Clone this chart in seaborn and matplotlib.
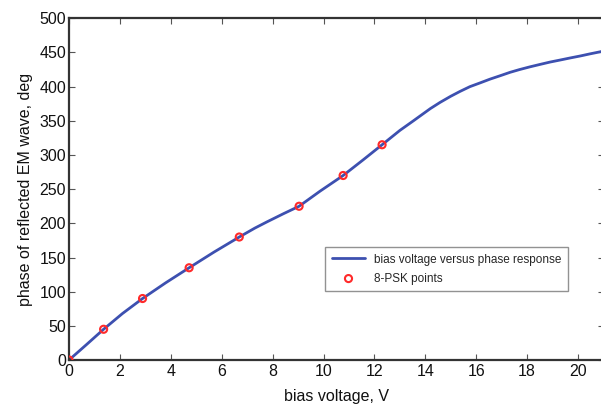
import matplotlib
matplotlib.use("Agg")
import matplotlib.pyplot as plt
import seaborn as sns
import pandas as pd

# Measured phase response of the reflecting element vs. bias voltage
bias_voltage = [0, 0.7, 1.36, 2.1, 2.89, 3.8, 4.72, 5.7, 6.69, 7.3, 7.77, 8.42,
                9.04, 9.86, 10.77, 11.56, 12.30, 13.0, 13.53, 13.79, 14.2, 14.58,
                15.0, 15.36, 15.75, 16.15, 16.54, 16.94, 17.33, 17.7, 18.11,
                18.5, 18.9, 19.3, 19.69, 20.1, 20.47, 21.0]
phase_deg = [0, 23, 45, 68, 90, 113, 135, 158, 180, 193, 202, 214,
             225, 247, 270, 293, 315, 336, 350, 357, 368, 377,
             386, 393, 400, 405.5, 411, 416, 421, 425, 429,
             432.5, 436, 439, 442, 445, 448, 452]

# Bias voltages selected for the eight 8-PSK phase states
psk_voltage = [0, 1.36, 2.89, 4.72, 6.69, 9.04, 10.77, 12.30]
psk_phase = [0, 45, 90, 135, 180, 225, 270, 315]

x_ticks = [0, 2, 4, 6, 8, 10, 12, 14, 16, 18, 20]
y_ticks = [0, 50, 100, 150, 200, 250, 300, 350, 400, 450, 500]

curve = pd.DataFrame({"v": bias_voltage, "phase": phase_deg})
points = pd.DataFrame({"v": psk_voltage, "phase": psk_phase})

sns.set_style("white")
plt.rcParams["font.family"] = ["Liberation Sans", "DejaVu Sans"]

fig = plt.figure(figsize=(6.01, 4.08), dpi=100)
ax = fig.add_axes([0.1148, 0.1176, 0.8894, 0.8375])

sns.lineplot(data=curve, x="v", y="phase", ax=ax, color="#3d50b0", linewidth=2.0,
             sort=False, label="bias voltage versus phase response")
sns.scatterplot(data=points, x="v", y="phase", ax=ax, marker="o", s=26,
                facecolor="none", edgecolor="#ff2a2a", linewidth=1.5,
                label="8-PSK points", zorder=3)

ax.set_xlim(0, 21)
ax.set_ylim(0, 500)
ax.set_xticks(x_ticks)
ax.set_yticks(y_ticks)
ax.tick_params(direction="in", length=4, width=0.8, color="#555555",
               labelsize=11.5, labelcolor="#111111", top=True, right=True,
               bottom=True, left=True, pad=3)
ax.tick_params(axis="y", pad=2)
for side in ["left", "bottom", "top", "right"]:
    ax.spines[side].set_color("#333333")
    ax.spines[side].set_linewidth(1.6)

ax.set_xlabel("bias voltage, V", fontsize=11.5, color="#111111", labelpad=7)
ax.set_ylabel("phase of reflected EM wave, deg", fontsize=11.5, color="#111111",
              labelpad=5)

leg = ax.legend(loc="center", bbox_to_anchor=(0.707, 0.266), fontsize=8.5,
                fancybox=False, frameon=True, edgecolor="#777777",
                handlelength=2.8, borderpad=0.55, labelspacing=0.6,
                handletextpad=0.8)
leg.get_frame().set_linewidth(1.0)

fig.savefig("out.png", dpi=100)
